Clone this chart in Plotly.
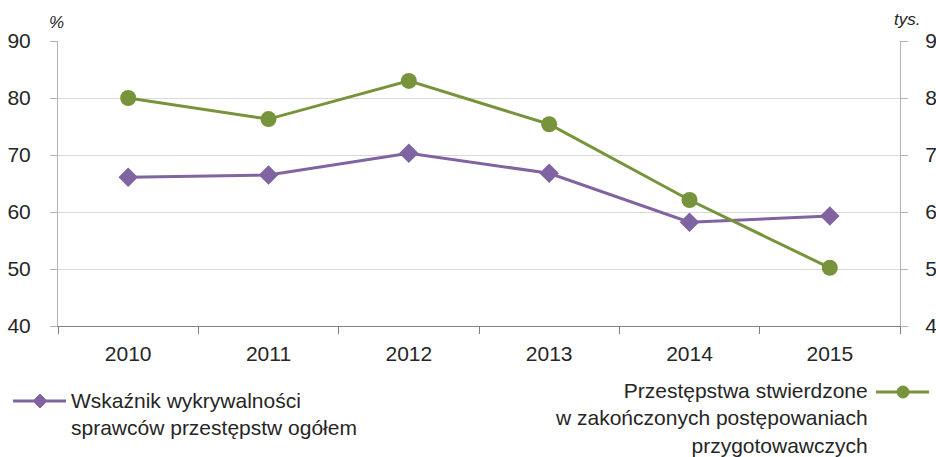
import plotly.graph_objects as go

years = ["2010", "2011", "2012", "2013", "2014", "2015"]
wskaznik = [66.1, 66.5, 70.3, 66.8, 58.2, 59.3]          # %
przestepstwa = [8.0, 7.63, 8.3, 7.54, 6.21, 5.02]        # tys.

name_w = "Wskaźnik wykrywalności<br>sprawców przestępstw ogółem"
name_p = "Przestępstwa stwierdzone<br>w zakończonych postępowaniach<br>przygotowawczych"

purple = "#8064A2"
green = "#77933C"
txt = "#262626"
W, H = 936, 457
L, R, T, B = 58, 36, 41, 131


def px(x):
    return (x - L) / (W - L - R)


def py(y):
    return (H - B - y) / (H - T - B)


fig = go.Figure()
fig.add_trace(go.Scatter(x=years, y=wskaznik, mode="lines+markers", name=name_w,
                         line=dict(color=purple, width=3),
                         marker=dict(symbol="diamond", size=15, color=purple),
                         showlegend=False))
fig.add_trace(go.Scatter(x=years, y=przestepstwa, mode="lines+markers", name=name_p,
                         yaxis="y2", line=dict(color=green, width=3),
                         marker=dict(symbol="circle", size=16, color=green),
                         showlegend=False))

yax_col = "#b3b3b3"
fig.update_layout(
    width=W, height=H,
    margin=dict(l=L, r=R, t=T, b=B, autoexpand=False),
    paper_bgcolor="white", plot_bgcolor="white",
    font=dict(family="Liberation Sans, Arial, sans-serif", size=21, color=txt),
    xaxis=dict(type="category", range=[-0.5, 5.5], showgrid=False, automargin=False,
               showline=True, linecolor="#808080", linewidth=1,
               ticks="outside", tickson="boundaries", ticklen=7, tickcolor="#808080",
               ticklabelstandoff=9),
    yaxis=dict(range=[40, 90], dtick=10, showgrid=True, gridcolor="#d9d9d9",
               automargin=False, showline=True, linecolor=yax_col, zeroline=False,
               ticks="outside", ticklen=7, tickcolor=yax_col, ticklabelstandoff=15),
    yaxis2=dict(range=[4, 9], dtick=1, overlaying="y", side="right", showgrid=False,
                automargin=False, showline=True, linecolor=yax_col, zeroline=False,
                ticks="outside", ticklen=7, tickcolor=yax_col, ticklabelstandoff=13),
)

ann = [
    dict(text="<i>%</i>", x=px(56), y=py(22)),
    dict(text="<i>tys.</i>", x=px(907), y=py(20)),
]
for a in ann:
    fig.add_annotation(xref="paper", yref="paper", showarrow=False,
                       xanchor="center", yanchor="middle",
                       font=dict(size=17, color=txt), **a)

# legend, drawn by hand (the right item has its key after the text)
fig.add_annotation(xref="paper", yref="paper", showarrow=False, text=name_w,
                   x=px(69), y=py(387), xanchor="left", yanchor="top", align="left",
                   font=dict(size=21, color=txt))
fig.add_annotation(xref="paper", yref="paper", showarrow=False, text=name_p,
                   x=px(870), y=py(377), xanchor="right", yanchor="top", align="right",
                   font=dict(size=21, color=txt))

fig.add_shape(type="line", xref="paper", yref="paper", x0=px(13), x1=px(66),
              y0=py(401), y1=py(401), line=dict(color=purple, width=3))
fig.add_shape(type="path", xref="paper", yref="paper", xsizemode="pixel", ysizemode="pixel",
              xanchor=px(40), yanchor=py(401), path="M -7 0 L 0 7 L 7 0 L 0 -7 Z",
              fillcolor=purple, line=dict(color=purple, width=1))
fig.add_shape(type="line", xref="paper", yref="paper", x0=px(876), x1=px(929),
              y0=py(392), y1=py(392), line=dict(color=green, width=3))
fig.add_shape(type="circle", xref="paper", yref="paper", xsizemode="pixel", ysizemode="pixel",
              xanchor=px(903), yanchor=py(392), x0=-6, x1=6, y0=-6, y1=6,
              fillcolor=green, line=dict(color=green, width=1))

# page body has a default 8px margin; drop it so the chart sits at the window corner
fig.write_html("out.html", config={"displayModeBar": False},
               post_script="document.body.style.margin='0px';")
